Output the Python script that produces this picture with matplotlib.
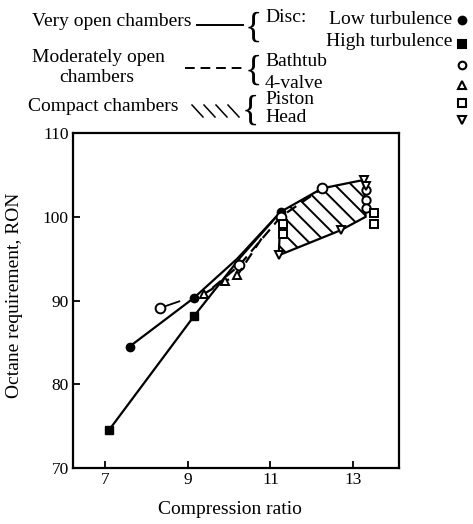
import matplotlib
matplotlib.use("Agg")
import matplotlib.pyplot as plt
from matplotlib.patches import Polygon
from matplotlib.lines import Line2D

plt.rcParams['font.family'] = ['Liberation Serif', 'DejaVu Serif']
plt.rcParams['hatch.linewidth'] = 1.4

# ---- data ----
low_turb_x = [7.6, 9.15, 10.2, 11.25]
low_turb_y = [84.5, 90.3, 95.0, 100.6]
high_turb_x = [7.1, 9.15, 10.3, 11.25]
high_turb_y = [74.5, 88.1, 95.3, 100.6]
bath_short_x = [8.33, 8.8]
bath_short_y = [89.1, 89.9]
bath_x = [9.6, 10.25, 11.25, 12.25]
bath_y = [91.5, 94.2, 100.0, 103.4]
bath_right_x = [13.3, 13.3, 13.3]
bath_right_y = [103.2, 102.0, 101.0]
valve_x = [9.4, 9.9, 10.2, 10.8]
valve_y = [90.8, 92.3, 93.0, 97.5]
compact_x = [11.25, 12.25, 13.25, 13.3, 12.7, 11.2]
compact_y = [100.6, 103.4, 104.4, 100.0, 98.4, 95.4]
piston_x = [11.3, 11.3, 13.5, 13.5]
piston_y = [99.2, 98.0, 100.4, 99.2]
head_x = [11.2, 13.25, 13.3, 12.7]
head_y = [95.4, 104.4, 103.7, 98.4]
xticks = [7, 9, 11, 13]
yticks = [70, 80, 90, 100, 110]

fig = plt.figure(figsize=(4.73, 5.24), dpi=100)
ax = fig.add_axes([0.154, 0.107, 0.69, 0.639])
ax.set_xlim(6.23, 14.11)
ax.set_ylim(70, 110)

ms = 5
# compact chambers hatched region
poly = Polygon(list(zip(compact_x, compact_y)), closed=True, facecolor='white',
               edgecolor='black', hatch='\\\\', lw=1.6)
ax.add_patch(poly)

ax.plot(low_turb_x, low_turb_y, '-', color='black', lw=1.6)
ax.plot([low_turb_x[0], low_turb_x[1], low_turb_x[-1]],
        [low_turb_y[0], low_turb_y[1], low_turb_y[-1]], 'o', color='black', ms=ms + 1)
ax.plot(high_turb_x, high_turb_y, '-', color='black', lw=1.6)
ax.plot(high_turb_x[:2], high_turb_y[:2], 's', color='black', ms=ms + 1)
ax.plot(bath_short_x, bath_short_y, '-', color='black', lw=1.3)
ax.plot(bath_short_x[:1], bath_short_y[:1], 'o', mfc='white', mec='black', mew=1.4, ms=ms + 2)
ax.plot(bath_x, bath_y, '--', color='black', lw=1.6, dashes=(5, 3))
ax.plot(bath_x[1:], bath_y[1:], 'o', mfc='white', mec='black', mew=1.4, ms=ms + 2, ls='none')
ax.plot(bath_right_x, bath_right_y, 'o', mfc='white', mec='black', mew=1.4, ms=ms + 1, ls='none')
ax.plot(valve_x, valve_y, '--', color='black', lw=1.6, dashes=(5, 3))
ax.plot(valve_x[:3], valve_y[:3], '^', mfc='white', mec='black', mew=1.4, ms=ms + 1, ls='none')
ax.plot(piston_x, piston_y, 's', mfc='white', mec='black', mew=1.4, ms=ms + 1, ls='none')
ax.plot(head_x, head_y, 'v', mfc='white', mec='black', mew=1.4, ms=ms + 1, ls='none')

ax.set_xticks(xticks)
ax.set_yticks(yticks)
ax.tick_params(direction='in', length=5, width=1.3, labelsize=12.5, pad=3)
for s in ax.spines.values():
    s.set_linewidth(1.6)

W, H = 473.0, 524.0
fig.text(230 / W, 1 - 510 / H, 'Compression ratio', fontsize=14, ha='center', va='center')
fig.text(15 / W, 1 - 295 / H, 'Octane requirement, RON', fontsize=14, ha='center',
         va='center', rotation=90)

# ---- legend block (figure text) ----
def ft(x, y, s, **kw):
    fig.text(x / W, 1 - y / H, s, fontsize=14, va='center', **kw)

ft(32, 21, 'Very open chambers')
fig.add_artist(Line2D([197 / W, 243 / W], [1 - 25 / H] * 2, color='black', lw=1.4))
ft(32, 57, 'Moderately open')
ft(59, 78, 'chambers')
fig.add_artist(Line2D([185 / W, 243 / W], [1 - 68 / H] * 2, color='black', lw=1.4,
                      ls='--', dashes=(5, 3)))
ft(28, 106, 'Compact chambers')
for i in range(4):
    x0 = 192 + i * 12
    fig.add_artist(Line2D([x0 / W, (x0 + 11) / W], [1 - 105 / H, 1 - 117 / H],
                          color='black', lw=1.1))
# braces
fig.text(253 / W, 1 - 28 / H, '{', fontsize=26, va='center', ha='center')
fig.text(253 / W, 1 - 71 / H, '{', fontsize=26, va='center', ha='center')
fig.text(250 / W, 1 - 111 / H, '{', fontsize=26, va='center', ha='center')
ft(265, 18, 'Disc:')
ft(452, 19, 'Low turbulence', ha='right')
ft(452, 42, 'High turbulence', ha='right')
ft(265, 62, 'Bathtub')
ft(265, 83, '4-valve')
ft(265, 99, 'Piston')
ft(265, 118, 'Head')
# legend markers
mk = [(462, 20, 'o', 'black'), (462, 44, 's', 'black'), (462, 65, 'o', 'white'),
      (462, 85, '^', 'white'), (462, 103, 's', 'white'), (462, 120, 'v', 'white')]
for x, y, m, fc in mk:
    fig.add_artist(Line2D([x / W], [1 - y / H], marker=m, mfc=fc, mec='black', mew=1.5,
                          ms=5.5, ls='none'))

fig.savefig('out.png', dpi=100)
